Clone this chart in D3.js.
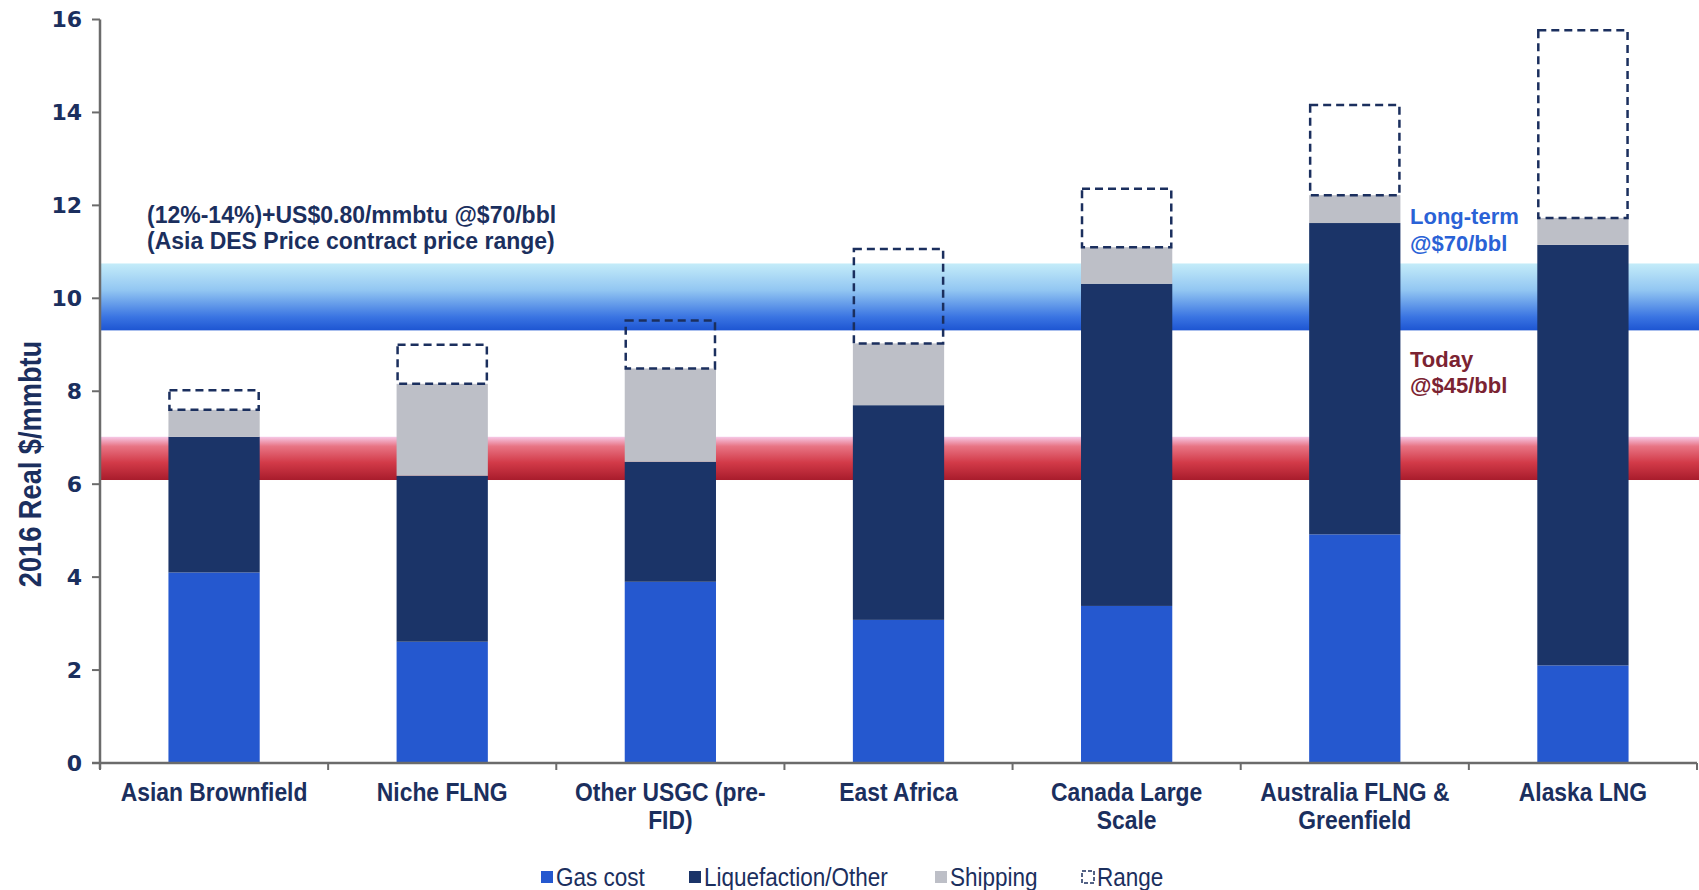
<!DOCTYPE html>
<html>
<head>
<meta charset="utf-8">
<script src="https://cdn.jsdelivr.net/npm/d3@7"></script>
<style>
  html, body { margin: 0; padding: 0; background: #fff; }
  svg { display: block; }
</style>
</head>
<body>
<div id="chart"></div>
<script>
// categories (line breaks as in the original axis labels)
var categories = ["Asian Brownfield", "Niche FLNG", "Other USGC (pre-\nFID)", "East Africa",
                  "Canada Large\nScale", "Australia FLNG &\nGreenfield", "Alaska LNG"];
// stacked segments, $/mmbtu
var gasCost      = [4.10, 2.61, 3.90, 3.08, 3.38, 4.92, 2.10];
var liquefaction = [2.92, 3.57, 2.58, 4.62, 6.93, 6.70, 9.05];
var shipping     = [0.58, 1.98, 2.01, 1.33, 0.79, 0.60, 0.58];
var rangeExtra   = [0.42, 0.84, 1.03, 2.03, 1.26, 1.94, 4.04];
var yTicks = [0, 2, 4, 6, 8, 10, 12, 14, 16];
// price bands
var longTermBand = [9.31, 10.75];
var todayBand    = [6.09, 7.02];
var seriesNames  = ["Gas cost", "Liquefaction/Other", "Shipping", "Range"];

var width = 1699, height = 890;
var navy = "#1b2f5e";
var colors = { gas: "#2558cf", liq: "#1b3468", ship: "#bdbfc7" };

var svg = d3.select("#chart").append("svg").attr("width", width).attr("height", height);

var defs = svg.append("defs");
var gBlue = defs.append("linearGradient").attr("id", "blueBand").attr("x1", 0).attr("y1", 0).attr("x2", 0).attr("y2", 1);
gBlue.append("stop").attr("offset", "0%").attr("stop-color", "#c4ecf9");
gBlue.append("stop").attr("offset", "40%").attr("stop-color", "#92c6f2");
gBlue.append("stop").attr("offset", "80%").attr("stop-color", "#3a74e2");
gBlue.append("stop").attr("offset", "100%").attr("stop-color", "#1d55d2");
var gRed = defs.append("linearGradient").attr("id", "redBand").attr("x1", 0).attr("y1", 0).attr("x2", 0).attr("y2", 1);
gRed.append("stop").attr("offset", "0%").attr("stop-color", "#f6c8e6");
gRed.append("stop").attr("offset", "22%").attr("stop-color", "#e87484");
gRed.append("stop").attr("offset", "60%").attr("stop-color", "#d23a48");
gRed.append("stop").attr("offset", "100%").attr("stop-color", "#a81c2c");

var x0 = 100, x1 = 1697, yBase = 763, yTop = 19.5;
var x = d3.scaleBand().domain(categories).range([x0, x1]).paddingInner(0.6).paddingOuter(0.3);
var y = d3.scaleLinear().domain([0, 16]).range([yBase, yTop]);
var step = x.step();

// bands
svg.append("rect").attr("x", x0 + 1).attr("width", width - x0 - 1)
  .attr("y", y(longTermBand[1])).attr("height", y(longTermBand[0]) - y(longTermBand[1]))
  .attr("fill", "url(#blueBand)");
svg.append("rect").attr("x", x0 + 1).attr("width", width - x0 - 1)
  .attr("y", y(todayBand[1])).attr("height", y(todayBand[0]) - y(todayBand[1]))
  .attr("fill", "url(#redBand)");

// stacked bars
var rows = categories.map(function(c, i) {
  return { cat: c, gas: gasCost[i], liq: liquefaction[i], ship: shipping[i], range: rangeExtra[i] };
});
var stack = d3.stack().keys(["gas", "liq", "ship"])(rows);
svg.selectAll("g.layer").data(stack).enter().append("g").attr("class", "layer")
  .attr("fill", function(d) { return colors[d.key]; })
  .selectAll("rect").data(function(d) { return d; }).enter().append("rect")
  .attr("x", function(d) { return x(d.data.cat); })
  .attr("width", x.bandwidth())
  .attr("y", function(d) { return y(d[1]); })
  .attr("height", function(d) { return y(d[0]) - y(d[1]); });

// range boxes
svg.selectAll("rect.range").data(rows).enter().append("rect").attr("class", "range")
  .attr("x", function(d) { return x(d.cat) + 1; })
  .attr("width", x.bandwidth() - 2)
  .attr("y", function(d) { return y(d.gas + d.liq + d.ship + d.range); })
  .attr("height", function(d) { return y(d.gas + d.liq + d.ship) - y(d.gas + d.liq + d.ship + d.range); })
  .attr("fill", "none").attr("stroke", navy).attr("stroke-width", 2.5).attr("stroke-dasharray", "8,5");

// axes
var axisColor = "#6b6b6b";
svg.append("line").attr("x1", x0).attr("x2", x0).attr("y1", yTop).attr("y2", yBase + 6)
  .attr("stroke", axisColor).attr("stroke-width", 2.5);
svg.append("line").attr("x1", x0 - 8).attr("x2", x1).attr("y1", yBase).attr("y2", yBase)
  .attr("stroke", axisColor).attr("stroke-width", 2.5);
svg.selectAll("line.ytick").data(yTicks).enter().append("line").attr("class", "ytick")
  .attr("x1", x0 - 8).attr("x2", x0).attr("y1", function(d) { return y(d); }).attr("y2", function(d) { return y(d); })
  .attr("stroke", axisColor).attr("stroke-width", 2);
svg.selectAll("line.xtick").data(d3.range(categories.length + 1)).enter().append("line").attr("class", "xtick")
  .attr("x1", function(i) { return x0 + i * step; }).attr("x2", function(i) { return x0 + i * step; })
  .attr("y1", yBase).attr("y2", yBase + 7)
  .attr("stroke", axisColor).attr("stroke-width", 2);

svg.selectAll("text.ytl").data(yTicks).enter().append("text").attr("class", "ytl")
  .attr("x", 82).attr("y", function(d) { return y(d); }).attr("dy", "0.36em")
  .attr("text-anchor", "end").attr("fill", navy)
  .style("font-family", "'DejaVu Sans', sans-serif").style("font-weight", "bold").style("font-size", "22px")
  .text(function(d) { return d; });

// condensed bold labels (narrow look via horizontal squeeze)
var sans = "'Liberation Sans', Arial, sans-serif";
svg.selectAll("g.xtl").data(categories).enter().append("g").attr("class", "xtl")
  .attr("transform", function(d) { return "translate(" + (x(d) + x.bandwidth() / 2) + ",801) scale(0.88,1)"; })
  .append("text").attr("text-anchor", "middle").attr("fill", navy)
  .style("font-family", sans).style("font-weight", "bold").style("font-size", "26px")
  .each(function(d) {
    var t = d3.select(this);
    d.split("\n").forEach(function(line, k) {
      t.append("tspan").attr("x", 0).attr("dy", k === 0 ? 0 : 28).text(line);
    });
  });

svg.append("text").attr("transform", "translate(41,464) rotate(-90) scale(0.85,1)")
  .attr("text-anchor", "middle").attr("fill", navy)
  .style("font-family", sans).style("font-weight", "bold").style("font-size", "32px")
  .text("2016 Real  $/mmbtu");

// annotations
var ann = svg.append("text").attr("fill", navy)
  .style("font-family", sans).style("font-weight", "bold").style("font-size", "23px");
ann.append("tspan").attr("x", 147).attr("y", 223).text("(12%-14%)+US$0.80/mmbtu @$70/bbl");
ann.append("tspan").attr("x", 147).attr("y", 249).text("(Asia DES Price contract price range)");

var lt = svg.append("text").attr("fill", "#2a62d6")
  .style("font-family", sans).style("font-weight", "bold").style("font-size", "22px");
lt.append("tspan").attr("x", 1410).attr("y", 224).text("Long-term");
lt.append("tspan").attr("x", 1410).attr("y", 251).text("@$70/bbl");

var td = svg.append("text").attr("fill", "#7b2332")
  .style("font-family", sans).style("font-weight", "bold").style("font-size", "22px");
td.append("tspan").attr("x", 1410).attr("y", 367).text("Today");
td.append("tspan").attr("x", 1410).attr("y", 393).text("@$45/bbl");

// legend
var legendX = [541, 689, 935, 1082];
var legendFill = [colors.gas, colors.liq, colors.ship, "none"];
var lg = svg.selectAll("g.leg").data(seriesNames).enter().append("g").attr("class", "leg")
  .attr("transform", function(d, i) { return "translate(" + legendX[i] + ",877)"; });
lg.append("rect").attr("x", 0).attr("y", -6).attr("width", 12).attr("height", 12)
  .attr("fill", function(d, i) { return legendFill[i]; })
  .attr("stroke", function(d, i) { return i === 3 ? navy : "none"; })
  .attr("stroke-width", 1.5).attr("stroke-dasharray", function(d, i) { return i === 3 ? "4,2" : null; });
lg.append("g").attr("transform", "translate(15,0) scale(0.9,1)")
  .append("text").attr("dy", "0.36em").attr("fill", navy)
  .style("font-family", sans).style("font-size", "25px")
  .text(function(d) { return d; });
</script>
</body>
</html>
